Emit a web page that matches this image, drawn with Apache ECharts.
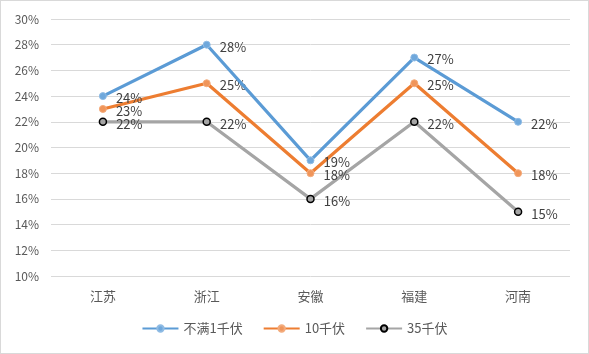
<!DOCTYPE html>
<html>
<head>
<meta charset="utf-8">
<script src="https://cdn.jsdelivr.net/npm/echarts@6/dist/echarts.min.js"></script>
<style>
  html, body { margin: 0; padding: 0; background: #fff; }
  #chart { width: 587px; height: 352px; border: 1px solid #d9d9d9; }
</style>
</head>
<body>
<div id="chart"></div>
<script>
var provinces = ['江苏', '浙江', '安徽', '福建', '河南'];
var seriesNames = ['不满1千伏', '10千伏', '35千伏'];
var under1kv = [24, 28, 19, 27, 22];
var kv10 = [23, 25, 18, 25, 18];
var kv35 = [22, 22, 16, 22, 15];

var lineColors = ['#5b9bd5', '#ed7d31', '#a5a5a5'];
var markerFill = ['#6fa8dc', '#f0955a', '#a5a5a5'];
var markerBorder = ['#8fbbe4', '#f3ab7c', '#000000'];
var font = '"Noto Sans CJK SC", "DejaVu Sans", sans-serif';

function makeSeries(i, data) {
    return {
        name: seriesNames[i],
        type: 'line',
        data: data,
        symbol: 'circle',
        symbolSize: 7,
        lineStyle: { color: lineColors[i], width: 3.2 },
        itemStyle: {
            color: markerFill[i],
            borderColor: markerBorder[i],
            borderWidth: i == 2 ? 1.5 : 1
        },
        label: {
            show: true,
            position: 'right',
            distance: 9,
            offset: [0, 2],
            color: '#404040',
            fontSize: 13,
            fontFamily: font,
            formatter: '{c}%'
        },
        z: 3 - i
    };
}

var chart = echarts.init(document.getElementById('chart'));
chart.setOption({
    animation: false,
    textStyle: { fontFamily: font },
    grid: { left: 50, right: 18, top: 18, bottom: 77 },
    legend: {
        bottom: 13,
        left: 'center',
        itemWidth: 36,
        itemHeight: 8,
        itemGap: 20,
        textStyle: { color: '#595959', fontSize: 13, fontFamily: font },
        data: seriesNames
    },
    xAxis: {
        type: 'category',
        data: provinces,
        axisLine: { show: false },
        axisTick: { show: false },
        axisLabel: { color: '#595959', fontSize: 13, margin: 14 }
    },
    yAxis: {
        type: 'value',
        min: 10,
        max: 30,
        interval: 2,
        axisLine: { show: false },
        axisTick: { show: false },
        axisLabel: { color: '#595959', fontSize: 12, formatter: '{value}%', margin: 12 },
        splitLine: { lineStyle: { color: '#d9d9d9', width: 1 } }
    },
    series: [
        makeSeries(0, under1kv),
        makeSeries(1, kv10),
        makeSeries(2, kv35)
    ]
});
</script>
</body>
</html>
